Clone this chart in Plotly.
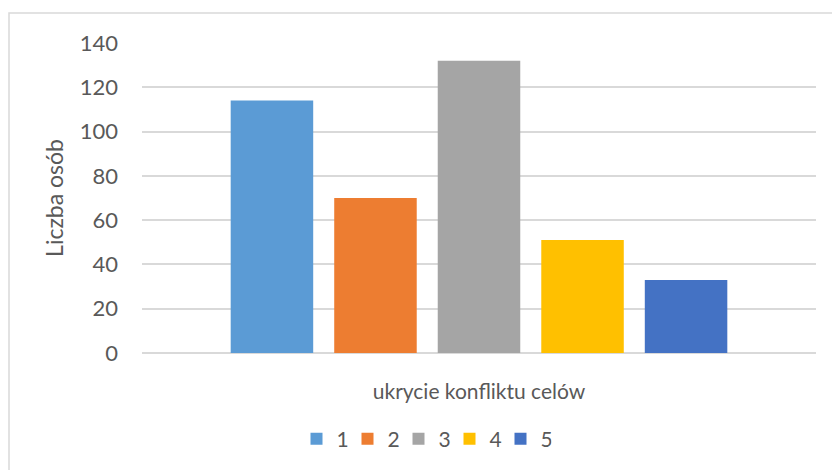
import plotly.graph_objects as go

# Survey answers (scale 1-5) for a single question
category = ["ukrycie konfliktu celów"]
series_names = ["1", "2", "3", "4", "5"]
counts = [114, 70, 132, 51, 33]
colors = ["#5B9BD5", "#ED7D31", "#A5A5A5", "#FFC000", "#4472C4"]

y_ticks = [0, 20, 40, 60, 80, 100, 120, 140]

FONT = "Lato"
TEXT_COLOR = "#595959"
GRID = "#D9D9D9"

fig = go.Figure()
for name, val, col in zip(series_names, counts, colors):
    fig.add_trace(go.Bar(
        x=category, y=[val], name=name,
        marker=dict(color=col, line=dict(width=0)),
    ))

W, H = 832, 470
ml, mr, mt, mb = 142, 16, 43, 116
pw, ph = W - ml - mr, H - mt - mb

def px_to_paper_x(px):
    return (px - ml) / pw

def px_to_paper_y(py):
    return (H - mb - py) / ph

fig.update_layout(
    width=W, height=H,
    margin=dict(l=ml, r=mr, t=mt, b=mb, pad=0),
    paper_bgcolor="white", plot_bgcolor="white",
    barmode="group", bargap=0.232, bargroupgap=0.203,
    font=dict(family=FONT, color=TEXT_COLOR, size=21),
    showlegend=True,
    legend=dict(
        orientation="h", x=px_to_paper_x(424), y=px_to_paper_y(439),
        xanchor="center", yanchor="middle",
        font=dict(size=21, color=TEXT_COLOR, family=FONT),
        itemwidth=30, traceorder="normal",
        entrywidth=6, entrywidthmode="pixels",
    ),
    xaxis=dict(
        showgrid=False, showline=False, zeroline=False,
        ticks="outside", ticklen=0, tickcolor="white",
        ticklabelstandoff=20,
        tickfont=dict(size=21, color=TEXT_COLOR, family=FONT),
    ),
    yaxis=dict(
        range=[0, 140], tickvals=y_ticks,
        showgrid=True, gridcolor=GRID, gridwidth=1.5,
        zeroline=True, zerolinecolor=GRID, zerolinewidth=1.5,
        showline=False, ticks="", ticklabelstandoff=23,
        tickfont=dict(size=22, color=TEXT_COLOR, family=FONT),
        title=dict(text="Liczba osób", standoff=9,
                   font=dict(size=23, color=TEXT_COLOR, family=FONT)),
    ),
    shapes=[dict(
        type="rect", xref="paper", yref="paper", layer="below",
        x0=px_to_paper_x(9), x1=px_to_paper_x(900),
        y0=px_to_paper_y(520), y1=px_to_paper_y(13),
        line=dict(color=GRID, width=1.5), fillcolor="rgba(0,0,0,0)",
    )],
)

fig.write_html("out.html")
